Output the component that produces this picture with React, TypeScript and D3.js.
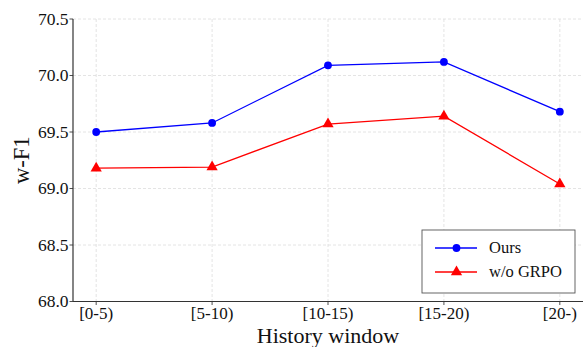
import React from "react";
import * as d3 from "d3";

const categories = ["[0-5)", "[5-10)", "[10-15)", "[15-20)", "[20-)"];
const oursValues = [69.5, 69.58, 70.09, 70.12, 69.68];
const grpoValues = [69.18, 69.19, 69.57, 69.64, 69.04];
const yTicks = [68.0, 68.5, 69.0, 69.5, 70.0, 70.5];

const W = 585, H = 347;
const L = 73, R = 583, T = 19, B = 301.5;
const font = "'Liberation Serif', 'DejaVu Serif', serif";

export default function App() {
  const x = d3.scaleLinear().domain([-0.2, 4.2]).range([L, R]);
  const y = d3.scaleLinear().domain([68, 70.5]).range([B, T]);
  const line = d3.line<number>().x((_, i) => x(i)).y((d) => y(d));
  const tri = d3.symbol().type(d3.symbolTriangle).size(55)();
  return (
    <svg width={W} height={H} style={{ position: "absolute", left: 0, top: 0, background: "#fff" }}>
      <rect width={W} height={H} fill="#fff" />
      {yTicks.map((t) => (
        <g key={"y" + t}>
          <line x1={L} x2={R} y1={y(t)} y2={y(t)} stroke="#ddd" strokeWidth={0.8} strokeDasharray="3,2" />
          <line x1={L - 3.5} x2={L} y1={y(t)} y2={y(t)} stroke="#222" strokeWidth={0.8} />
          <text x={L - 4.5} y={y(t)} dy="0.33em" textAnchor="end" fontFamily={font} fontSize={17.5} fill="#111">
            {t.toFixed(1)}
          </text>
        </g>
      ))}
      {categories.map((c, i) => (
        <g key={c}>
          <line x1={x(i)} x2={x(i)} y1={T} y2={B} stroke="#ddd" strokeWidth={0.8} strokeDasharray="3,2" />
          <line x1={x(i)} x2={x(i)} y1={B} y2={B + 3.5} stroke="#222" strokeWidth={0.8} />
          <text x={x(i)} y={B + 17.5} textAnchor="middle" fontFamily={font} fontSize={17} fill="#111">
            {c}
          </text>
        </g>
      ))}
      <line x1={L} x2={L} y1={T} y2={B} stroke="#333" strokeWidth={1.2} />
      <line x1={L} x2={R} y1={B} y2={B} stroke="#333" strokeWidth={1.2} />
      <path d={line(oursValues) || ""} fill="none" stroke="#0000ff" strokeWidth={1.3} />
      <path d={line(grpoValues) || ""} fill="none" stroke="#ff0000" strokeWidth={1.3} />
      {oursValues.map((v, i) => (
        <circle key={"o" + i} cx={x(i)} cy={y(v)} r={3.9} fill="#0000ff" />
      ))}
      {grpoValues.map((v, i) => (
        <path key={"g" + i} d={tri || ""} transform={`translate(${x(i)},${y(v)})`} fill="#ff0000" />
      ))}
      <text transform={`translate(29,${(T + B) / 2}) rotate(-90)`} textAnchor="middle" fontFamily={font} fontSize={22.5} fill="#111">
        w-F1
      </text>
      <text x={(L + R) / 2} y={342.5} textAnchor="middle" fontFamily={font} fontSize={22} fill="#111">
        History window
      </text>
      <g>
        <rect x={422} y={230} width={153} height={63} fill="#fff" stroke="#555" strokeWidth={0.9} />
        <line x1={435} x2={477} y1={248} y2={248} stroke="#0000ff" strokeWidth={1.3} />
        <circle cx={456.5} cy={248} r={3.9} fill="#0000ff" />
        <text x={489} y={248} dy="0.33em" fontFamily={font} fontSize={16.5} fill="#111">Ours</text>
        <line x1={435} x2={477} y1={272} y2={272} stroke="#ff0000" strokeWidth={1.3} />
        <path d={tri || ""} transform="translate(456.5,272)" fill="#ff0000" />
        <text x={489} y={272} dy="0.33em" fontFamily={font} fontSize={16.5} fill="#111">w/o GRPO</text>
      </g>
    </svg>
  );
}
